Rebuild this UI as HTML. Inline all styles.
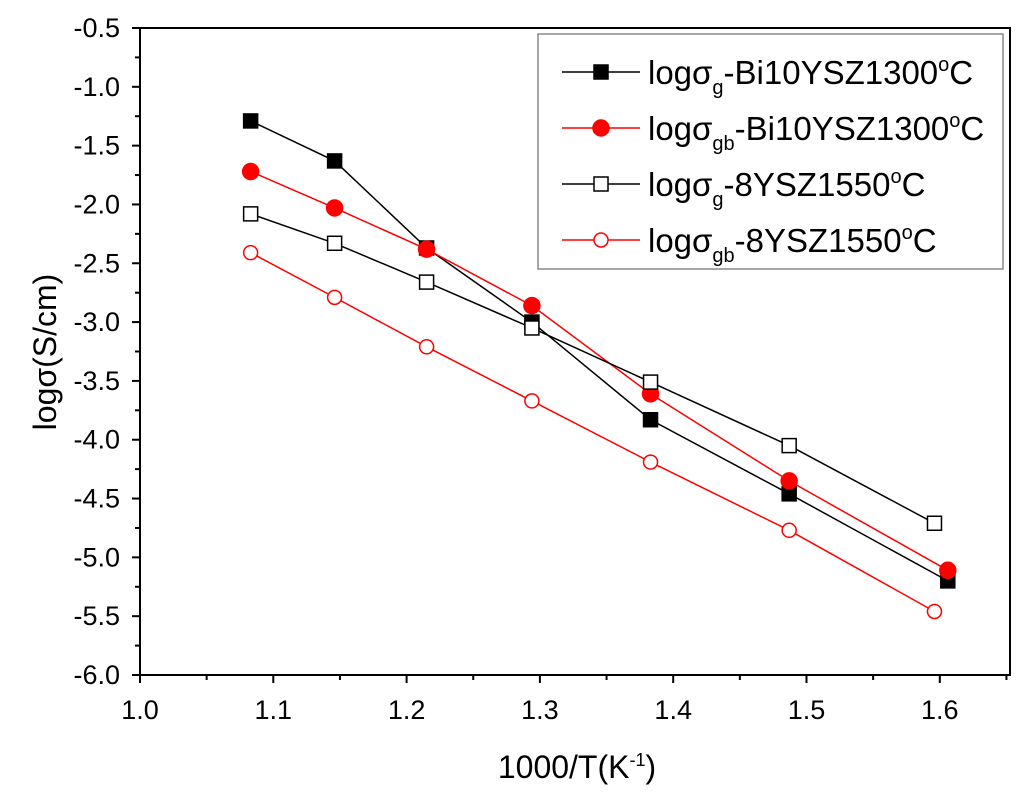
<!DOCTYPE html>
<html><head><meta charset="utf-8"><style>
body{margin:0;background:#fff;}
svg{display:block;font-family:"Liberation Sans",sans-serif;}
</style></head><body>
<svg id="chart" width="1024" height="794">
<g id="axes"></g>
<g id="series"></g>
<g id="legend"></g>
</svg>
<script>
const xTicks=[1.0,1.1,1.2,1.3,1.4,1.5,1.6];
const yTicks=[-0.5,-1.0,-1.5,-2.0,-2.5,-3.0,-3.5,-4.0,-4.5,-5.0,-5.5,-6.0];
const xA=[1.083,1.146,1.215,1.294,1.383,1.487,1.606];
const xB=[1.083,1.146,1.215,1.294,1.383,1.487,1.596];
const s1=[-1.29,-1.63,-2.37,-3.0,-3.83,-4.46,-5.2];
const s2=[-1.72,-2.03,-2.38,-2.86,-3.61,-4.35,-5.11];
const s3=[-2.08,-2.33,-2.66,-3.05,-3.51,-4.05,-4.71];
const s4=[-2.41,-2.79,-3.21,-3.67,-4.19,-4.77,-5.46];
const L=140,R=1010,T=28,B=675;
const X=v=>L+(v-1.0)/0.1*133.3;
const Y=v=>T+(-0.5-v)/5.5*(B-T);
const NS="http://www.w3.org/2000/svg";
function mk(tag,attrs,parent,text){const e=document.createElementNS(NS,tag);for(const k in attrs)e.setAttribute(k,attrs[k]);if(text!==undefined)e.textContent=text;parent.appendChild(e);return e;}
const ax=document.getElementById('axes');
let fr=mk('rect',{x:L,y:T,width:R-L,height:B-T,fill:'none',stroke:'#000','stroke-width':2},ax);


xTicks.forEach(v=>{
 const x=X(v);
 let t=mk('line',{x1:x,x2:x,y1:B,y2:B+8,stroke:'#000','stroke-width':2},ax);
 
 
 let m=mk('line',{x1:X(v+0.05),x2:X(v+0.05),y1:B,y2:B+5,stroke:'#000','stroke-width':2},ax);
 
 
 let l=mk('text',{x:x,y:B+44,'text-anchor':'middle',style:'font-size:27px'},ax,v.toFixed(1));
 
 
});
yTicks.forEach(v=>{
 const y=Y(v);
 let t=mk('line',{x1:L-8,x2:L,y1:y,y2:y,stroke:'#000','stroke-width':2},ax);
 
 
 if(v>-6){let m=mk('line',{x1:L-5,x2:L,y1:Y(v-0.25),y2:Y(v-0.25),stroke:'#000','stroke-width':2},ax);
 
 }
 let l=mk('text',{x:L-20,y:y+9,'text-anchor':'end',style:'font-size:27px'},ax,v.toFixed(1));
 
 
});
let xt=mk('text',{x:577,y:778,'text-anchor':'middle',style:'font-size:32px'},ax);
xt.innerHTML='1000/T(K<tspan dy="-12" style="font-size:18px">-1</tspan><tspan dy="12">)</tspan>';


let yt=mk('text',{x:0,y:0,'text-anchor':'middle',style:'font-size:32px',transform:'translate(56,352) rotate(-90)'},ax,'logσ(S/cm)');


const sg=document.getElementById('series');
const defs=[[xA,s1,'#000','sq',true],[xA,s2,'#f00','ci',true],[xB,s3,'#000','sq',false],[xB,s4,'#f00','ci',false]];
function marker(p,x,y,c,shape,filled){
 let e;
 if(shape==='sq')e=mk('rect',{x:x-7,y:y-7,width:14,height:14,fill:filled?c:'#fff',stroke:c,'stroke-width':1.5},p);
 else e=mk('circle',{cx:x,cy:y,r:filled?8:7,fill:filled?c:'#fff',stroke:c,'stroke-width':1.5},p);
 return e;
}
defs.forEach((d,i)=>{
 const g=mk('g',{},sg);
 
 
 const pts=d[0].map((xv,j)=>X(xv)+','+Y(d[1][j])).join(' ');
 let pl=mk('polyline',{points:pts,fill:'none',stroke:d[2],'stroke-width':1.5},g);
 
 
 d[0].forEach((xv,j)=>{
  let m=marker(g,X(xv),Y(d[1][j]),d[2],d[3],d[4]);
  
  
 });
});
const lg=document.getElementById('legend');
let lb=mk('rect',{x:538,y:34,width:465,height:235,fill:'#fff',stroke:'#888','stroke-width':1.5},lg);


const labels=[['g','-Bi10YSZ1300'],['gb','-Bi10YSZ1300'],['g','-8YSZ1550'],['gb','-8YSZ1550']];
defs.forEach((d,i)=>{
 const y=72+i*56;
 const g=mk('g',{},lg);
 
 
 mk('line',{x1:562,x2:640,y1:y,y2:y,stroke:d[2],'stroke-width':1.5},g);
 marker(g,601,y,d[2],d[3],d[4]);
 const t=mk('text',{x:648,y:y+12,style:'font-size:33px'},g);
 t.innerHTML='logσ<tspan dy="10" style="font-size:20px">'+labels[i][0]+'</tspan><tspan dy="-10">'+labels[i][1]+'</tspan><tspan dy="-13" style="font-size:20px">o</tspan><tspan dy="13">C</tspan>';
});
</script>
</body></html>
